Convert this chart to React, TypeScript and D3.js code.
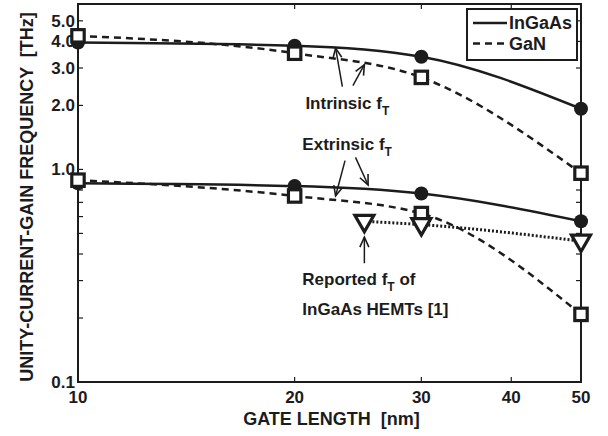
import React, { useRef, useEffect } from "react";
import * as d3 from "d3";

// gate length [nm]
const gateLengths = [10, 20, 30, 50];
// fT [THz]
const ingaasIntrinsic = [3.95, 3.82, 3.39, 1.93];
const ganIntrinsic = [4.25, 3.52, 2.71, 0.96];
const ingaasExtrinsic = [0.86, 0.835, 0.77, 0.57];
const ganExtrinsic = [0.89, 0.75, 0.62, 0.208];
// reported InGaAs HEMTs
const reportedLengths = [25, 30, 50];
const reportedFt = [0.57, 0.55, 0.46];

const xTicks = [10, 20, 30, 40, 50];
const yLabelTicks = [0.1, 1, 2, 3, 4, 5];
const yLabelText = ["0.1", "1.0", "2.0", "3.0", "4.0", "5.0"];
const yMinorTicks = [0.2, 0.3, 0.4, 0.5, 0.6, 0.7, 0.8, 0.9];

const legendNames = ["InGaAs", "GaN"];

const W = 608;
const H = 436;
const margin = { top: 4, right: 27, bottom: 54, left: 78 };
const ink = "#1c1c1c";
const font = "'Liberation Sans', Arial, Helvetica, sans-serif";

function FtChart() {
  const svgRef = useRef<SVGSVGElement | null>(null);

  useEffect(() => {
    const svg = d3.select(svgRef.current);
    svg.selectAll("*").remove();

    const iw = W - margin.left - margin.right;
    const ih = H - margin.top - margin.bottom;

    const x = d3.scaleLog().domain([10, 50]).range([0, iw]);
    const y = d3.scaleLog().domain([0.1, 6]).range([ih, 0]);

    const defs = svg.append("defs");
    defs
      .append("marker")
      .attr("id", "chev")
      .attr("markerUnits", "userSpaceOnUse")
      .attr("viewBox", "-12 -6 14 12")
      .attr("refX", 0)
      .attr("refY", 0)
      .attr("markerWidth", 14)
      .attr("markerHeight", 12)
      .attr("orient", "auto")
      .append("path")
      .attr("d", "M-10,-4.5 L0,0 L-10,4.5")
      .attr("fill", "none")
      .attr("stroke", ink)
      .attr("stroke-width", 1.6);

    const g = svg
      .append("g")
      .attr("transform", `translate(${margin.left},${margin.top})`);

    // ticks (inward, on all four sides)
    const tickG = g.append("g").attr("stroke", ink).attr("stroke-width", 1.2);
    xTicks.forEach((t) => {
      tickG.append("line").attr("x1", x(t)).attr("x2", x(t)).attr("y1", ih).attr("y2", ih - 5);
      tickG.append("line").attr("x1", x(t)).attr("x2", x(t)).attr("y1", 0).attr("y2", 5);
    });
    [...yLabelTicks, ...yMinorTicks].forEach((t) => {
      tickG.append("line").attr("x1", 0).attr("x2", 5).attr("y1", y(t)).attr("y2", y(t));
      tickG.append("line").attr("x1", iw).attr("x2", iw - 5).attr("y1", y(t)).attr("y2", y(t));
    });

    // frame
    g.append("rect")
      .attr("width", iw)
      .attr("height", ih)
      .attr("fill", "none")
      .attr("stroke", ink)
      .attr("stroke-width", 2);

    // tick labels
    g.selectAll(".ylab")
      .data(yLabelTicks)
      .join("text")
      .attr("class", "ylab")
      .attr("x", -3)
      .attr("y", (d) => y(d) + 6)
      .attr("text-anchor", "end")
      .attr("font-size", 17)
      .attr("font-weight", "bold")
      .attr("font-family", font)
      .attr("fill", ink)
      .text((d, i) => yLabelText[i]);

    g.selectAll(".xlab")
      .data(xTicks)
      .join("text")
      .attr("class", "xlab")
      .attr("x", (d) => x(d))
      .attr("y", ih + 21)
      .attr("text-anchor", "middle")
      .attr("font-size", 17)
      .attr("font-weight", "bold")
      .attr("font-family", font)
      .attr("fill", ink)
      .text((d) => d);

    // axis titles
    g.append("text")
      .attr("x", iw / 2 + 2)
      .attr("y", ih + 43)
      .attr("text-anchor", "middle")
      .attr("font-size", 18)
      .attr("font-weight", "bold")
      .attr("font-family", font)
      .attr("fill", ink)
      .style("white-space", "pre")
      .text("GATE LENGTH  [nm]");

    g.append("text")
      .attr("transform", `translate(${-45},${ih / 2 + 4}) rotate(-90)`)
      .attr("text-anchor", "middle")
      .attr("font-size", 18)
      .attr("font-weight", "bold")
      .attr("font-family", font)
      .attr("fill", ink)
      .style("white-space", "pre")
      .text("UNITY-CURRENT-GAIN FREQUENCY  [THz]");

    const line = d3
      .line<[number, number]>()
      .x((d) => x(d[0]))
      .y((d) => y(d[1]))
      .curve(d3.curveMonotoneX);

    const zip = (xs: number[], ys: number[]) =>
      xs.map((v, i) => [v, ys[i]] as [number, number]);

    const series = [
      { pts: zip(gateLengths, ingaasIntrinsic), dash: null, kind: "circle" },
      { pts: zip(gateLengths, ingaasExtrinsic), dash: null, kind: "circle" },
      { pts: zip(gateLengths, ganIntrinsic), dash: "7,5", kind: "square" },
      { pts: zip(gateLengths, ganExtrinsic), dash: "7,5", kind: "square" },
      { pts: zip(reportedLengths, reportedFt), dash: "2,2", kind: "tri" },
    ];

    series.forEach((s) => {
      g.append("path")
        .attr("d", line(s.pts))
        .attr("fill", "none")
        .attr("stroke", ink)
        .attr("stroke-width", s.kind === "tri" ? 3 : 2.5)
        .attr("stroke-dasharray", s.dash);
    });

    series.forEach((s) => {
      const m = g.append("g");
      s.pts.forEach((p) => {
        const cx = x(p[0]);
        const cy = y(p[1]);
        if (s.kind === "circle") {
          m.append("circle").attr("cx", cx).attr("cy", cy).attr("r", 7).attr("fill", ink);
        } else if (s.kind === "square") {
          m.append("rect")
            .attr("x", cx - 6.2)
            .attr("y", cy - 6.2)
            .attr("width", 12.4)
            .attr("height", 12.4)
            .attr("fill", "white")
            .attr("stroke", ink)
            .attr("stroke-width", 3.2);
        } else {
          m.append("path")
            .attr("d", `M${cx - 9.5},${cy - 6} L${cx + 9.5},${cy - 6} L${cx},${cy + 10.5} Z`)
            .attr("fill", "white")
            .attr("stroke", ink)
            .attr("stroke-width", 3.2)
            .attr("stroke-linejoin", "miter");
        }
      });
    });

    // annotations, positioned in data units [nm, THz]
    const arrows: [number, number, number, number][] = [
      [23.3, 2.45, 22.8, 3.72],
      [24.1, 2.48, 25.0, 3.11],
      [23.5, 1.1, 22.8, 0.75],
      [24.3, 1.14, 25.3, 0.845],
      [25.0, 0.362, 25.0, 0.48],
    ];
    arrows.forEach((a) => {
      g.append("line")
        .attr("x1", x(a[0]))
        .attr("y1", y(a[1]))
        .attr("x2", x(a[2]))
        .attr("y2", y(a[3]))
        .attr("stroke", ink)
        .attr("stroke-width", 1.5)
        .attr("marker-end", "url(#chev)");
    });

    const label = (nx: number, ty: number, pre: string, sub: string, post: string) => {
      const t = g
        .append("text")
        .attr("x", x(nx))
        .attr("y", y(ty))
        .attr("font-size", 17)
        .attr("font-weight", "bold")
        .attr("font-family", font)
        .attr("fill", ink)
        .style("white-space", "pre");
      t.append("tspan").text(pre);
      if (sub) {
        t.append("tspan").attr("dy", 6).attr("font-size", 12).text(sub);
        t.append("tspan").attr("dy", -6).text(post);
      }
    };
    label(20.7, 1.93, "Intrinsic f", "T", "");
    label(20.5, 1.23, "Extrinsic f", "T", "");
    label(20.5, 0.285, "Reported f", "T", " of");
    label(20.5, 0.206, "InGaAs HEMTs [1]", "", "");

    // legend
    const lg = svg.append("g").attr("transform", "translate(467,9)");
    lg.append("rect")
      .attr("width", 110)
      .attr("height", 51)
      .attr("fill", "white")
      .attr("stroke", ink)
      .attr("stroke-width", 2);
    legendNames.forEach((name, i) => {
      const cy = 14 + i * 20.5;
      lg.append("line")
        .attr("x1", 6)
        .attr("x2", 40)
        .attr("y1", cy)
        .attr("y2", cy)
        .attr("stroke", ink)
        .attr("stroke-width", 2.5)
        .attr("stroke-dasharray", i === 1 ? "7,5" : null);
      lg.append("text")
        .attr("x", 42)
        .attr("y", cy + 6)
        .attr("font-size", 18)
        .attr("font-weight", "bold")
        .attr("font-family", font)
        .attr("fill", ink)
        .text(name);
    });
  }, []);

  return (
    <svg
      ref={svgRef}
      width={W}
      height={H}
      style={{ position: "absolute", left: 0, top: 0, background: "white" }}
    ></svg>
  );
}

export default function App() {
  return <FtChart />;
}
